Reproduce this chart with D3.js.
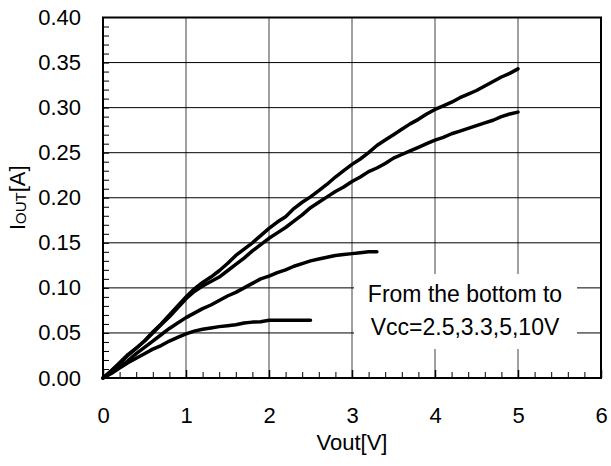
<!DOCTYPE html>
<html>
<head>
<meta charset="utf-8">
<script src="https://cdn.jsdelivr.net/npm/d3@7"></script>
<style>
  html, body { margin: 0; padding: 0; background: #fff; }
  svg { display: block; }
  text { font-family: "Liberation Sans", Arial, sans-serif; fill: #000; }
</style>
</head>
<body>
<svg id="chart" width="611" height="466"></svg>
<script>
// Output current vs. output voltage, one curve per supply voltage: [Vout (V), Iout (A)]
const curveVcc2p5 = [[0,0],[0.1,0.005],[0.2,0.011],[0.3,0.017],[0.4,0.022],[0.5,0.027],[0.6,0.032],[0.7,0.036],[0.8,0.041],[0.9,0.045],[1.0,0.049],[1.1,0.052],[1.2,0.054],[1.3,0.0555],[1.4,0.057],[1.5,0.058],[1.6,0.059],[1.7,0.061],[1.8,0.062],[1.9,0.0625],[2.0,0.064],[2.1,0.064],[2.2,0.064],[2.3,0.064],[2.4,0.064],[2.5,0.064]];
const curveVcc3p3 = [[0,0],[0.1,0.006],[0.2,0.012],[0.3,0.019],[0.4,0.027],[0.5,0.034],[0.6,0.041],[0.7,0.048],[0.8,0.055],[0.9,0.061],[1.0,0.067],[1.1,0.072],[1.2,0.077],[1.3,0.081],[1.4,0.086],[1.5,0.091],[1.6,0.095],[1.7,0.100],[1.8,0.105],[1.9,0.110],[2.0,0.113],[2.1,0.117],[2.2,0.120],[2.3,0.124],[2.4,0.127],[2.5,0.130],[2.6,0.132],[2.7,0.134],[2.8,0.136],[2.9,0.137],[3.0,0.138],[3.1,0.139],[3.2,0.140],[3.3,0.140]];
const curveVcc5 = [[0,0],[0.1,0.008],[0.2,0.016],[0.3,0.025],[0.4,0.033],[0.5,0.041],[0.6,0.050],[0.7,0.059],[0.8,0.068],[0.9,0.078],[1.0,0.088],[1.1,0.096],[1.2,0.102],[1.3,0.107],[1.4,0.112],[1.5,0.119],[1.6,0.126],[1.7,0.133],[1.8,0.141],[1.9,0.148],[2.0,0.155],[2.1,0.161],[2.2,0.167],[2.3,0.174],[2.4,0.181],[2.5,0.189],[2.6,0.195],[2.7,0.201],[2.8,0.207],[2.9,0.212],[3.0,0.218],[3.1,0.223],[3.2,0.229],[3.3,0.233],[3.4,0.238],[3.5,0.244],[3.6,0.248],[3.7,0.252],[3.8,0.256],[3.9,0.260],[4.0,0.264],[4.1,0.267],[4.2,0.271],[4.3,0.274],[4.4,0.277],[4.5,0.280],[4.6,0.283],[4.7,0.286],[4.8,0.290],[4.9,0.293],[5.0,0.295]];
const curveVcc10 = [[0,0],[0.1,0.008],[0.2,0.017],[0.3,0.026],[0.4,0.033],[0.5,0.041],[0.6,0.051],[0.7,0.060],[0.8,0.070],[0.9,0.080],[1.0,0.090],[1.1,0.099],[1.2,0.106],[1.3,0.112],[1.4,0.119],[1.5,0.127],[1.6,0.136],[1.7,0.143],[1.8,0.150],[1.9,0.158],[2.0,0.166],[2.1,0.173],[2.2,0.179],[2.3,0.188],[2.4,0.195],[2.5,0.201],[2.6,0.208],[2.7,0.215],[2.8,0.223],[2.9,0.230],[3.0,0.237],[3.1,0.243],[3.2,0.250],[3.3,0.258],[3.4,0.264],[3.5,0.270],[3.6,0.276],[3.7,0.282],[3.8,0.287],[3.9,0.293],[4.0,0.298],[4.1,0.302],[4.2,0.306],[4.3,0.311],[4.4,0.315],[4.5,0.319],[4.6,0.324],[4.7,0.329],[4.8,0.334],[4.9,0.338],[5.0,0.343]];
const curves = [curveVcc2p5, curveVcc3p3, curveVcc5, curveVcc10];

const xTicks = [0, 1, 2, 3, 4, 5, 6];
const yTicks = [0, 0.05, 0.10, 0.15, 0.20, 0.25, 0.30, 0.35, 0.40];
const xMinorTicks = d3.range(0, 30).map(i => i * 0.2);
const yMinorTicks = d3.range(0, 40).map(i => i * 0.01);
const xTitle = "Vout[V]";
const noteLines = ["From the bottom to", "Vcc=2.5,3.3,5,10V"];

const svg = d3.select("#chart");
const plot = { left: 103, right: 601, top: 17.5, bottom: 378 };

const x = d3.scaleLinear().domain([0, 6]).range([plot.left, plot.right]);
const y = d3.scaleLinear().domain([0, 0.4]).range([plot.bottom, plot.top]);

// vertical grid (grey)
svg.append("g").selectAll("line")
  .data(xTicks.slice(1, -1))
  .join("line")
  .attr("x1", d => x(d)).attr("x2", d => x(d))
  .attr("y1", plot.top).attr("y2", plot.bottom)
  .attr("stroke", "#808080").attr("stroke-width", 1.5);

// horizontal grid (black)
svg.append("g").selectAll("line")
  .data(yTicks.slice(1, -1))
  .join("line")
  .attr("x1", plot.left).attr("x2", plot.right)
  .attr("y1", d => y(d)).attr("y2", d => y(d))
  .attr("stroke", "#000").attr("stroke-width", 1);

// legend note box on white
svg.append("rect")
  .attr("x", 354).attr("y", 274).attr("width", 223).attr("height", 75)
  .attr("fill", "#fff");
svg.append("g").selectAll("text")
  .data(noteLines)
  .join("text")
  .attr("x", 465)
  .attr("y", (d, i) => 302 + i * 32.5)
  .attr("text-anchor", "middle")
  .style("font-size", "23px")
  .text(d => d);

// inward minor ticks
const yMinor = d3.axisLeft(y).tickValues(yMinorTicks).tickSize(-6).tickFormat("");
svg.append("g").attr("transform", `translate(${plot.left},0)`).call(yMinor)
  .call(g => g.select(".domain").remove())
  .call(g => g.selectAll("line").attr("stroke", "#000").attr("stroke-width", 1));
const xMinor = d3.axisBottom(x).tickValues(xMinorTicks).tickSize(-6).tickFormat("");
svg.append("g").attr("transform", `translate(0,${plot.bottom})`).call(xMinor)
  .call(g => g.select(".domain").remove())
  .call(g => g.selectAll("line").attr("stroke", "#000").attr("stroke-width", 1));
const xMajor = d3.axisBottom(x).tickValues(xTicks).tickSize(-8).tickFormat("");
svg.append("g").attr("transform", `translate(0,${plot.bottom})`).call(xMajor)
  .call(g => g.select(".domain").remove())
  .call(g => g.selectAll("line").attr("stroke", "#000").attr("stroke-width", 1.5));

// curves
const line = d3.line().x(d => x(d[0])).y(d => y(d[1]));
svg.append("g").selectAll("path")
  .data(curves)
  .join("path")
  .attr("d", line)
  .attr("fill", "none")
  .attr("stroke", "#000")
  .attr("stroke-width", 3.5)
  .attr("stroke-linejoin", "round")
  .attr("stroke-linecap", "round");

// frame
svg.append("rect")
  .attr("x", plot.left).attr("y", plot.top)
  .attr("width", plot.right - plot.left).attr("height", plot.bottom - plot.top)
  .attr("fill", "none").attr("stroke", "#000").attr("stroke-width", 2);

// tick labels
const yAxis = d3.axisLeft(y).tickValues(yTicks).tickSize(0).tickPadding(22).tickFormat(d3.format(".2f"));
svg.append("g").attr("transform", `translate(${plot.left},0)`).call(yAxis)
  .call(g => g.select(".domain").remove())
  .call(g => g.selectAll("text").style("font-size", "22px").style("font-family", "'Liberation Sans', Arial, sans-serif").attr("fill", "#000"));
const xAxis = d3.axisBottom(x).tickValues(xTicks).tickSize(0).tickPadding(29).tickFormat(d3.format("d"));
svg.append("g").attr("transform", `translate(0,${plot.bottom})`).call(xAxis)
  .call(g => g.select(".domain").remove())
  .call(g => g.selectAll("text").style("font-size", "22px").style("font-family", "'Liberation Sans', Arial, sans-serif").attr("fill", "#000"));

// axis titles
svg.append("text")
  .attr("x", (plot.left + plot.right) / 2)
  .attr("y", 450)
  .attr("text-anchor", "middle")
  .style("font-size", "22px")
  .text(xTitle);

const yTitle = svg.append("text")
  .attr("transform", `translate(25,${(plot.top + plot.bottom) / 2}) rotate(-90)`)
  .attr("text-anchor", "middle")
  .style("font-size", "22px");
yTitle.append("tspan").text("I");
yTitle.append("tspan").style("font-size", "15px").attr("dy", 1).text("OUT");
yTitle.append("tspan").attr("dy", -1).text("[A]");
</script>
</body>
</html>
